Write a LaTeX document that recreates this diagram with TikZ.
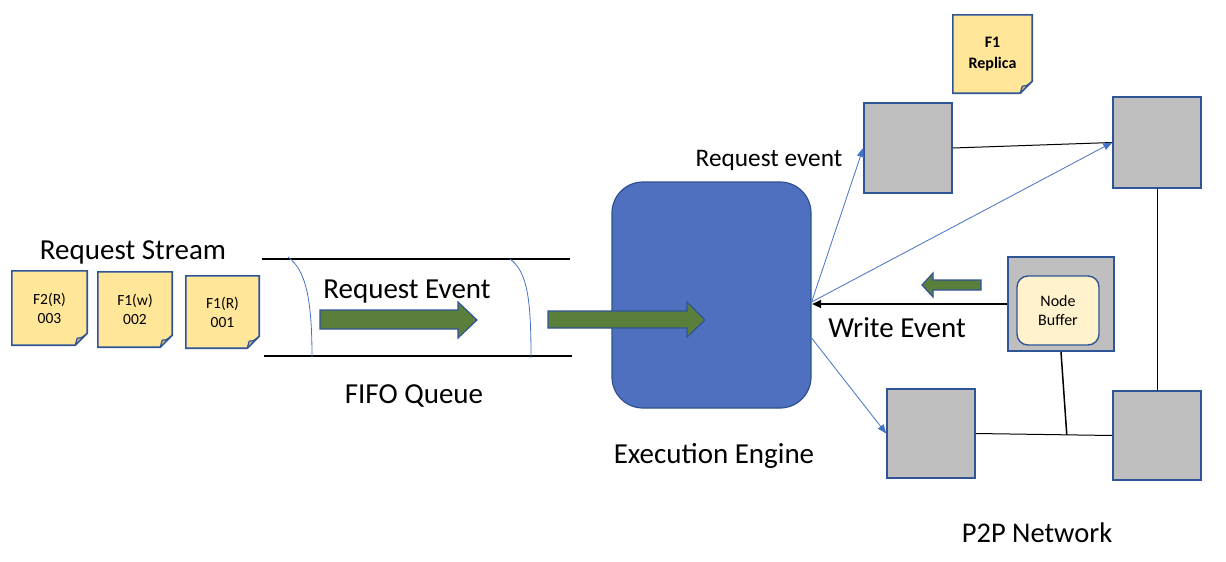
\documentclass[tikz,border=0pt]{standalone}
\usepackage{fontspec}
\setmainfont{Carlito}
\usetikzlibrary{calc,arrows.meta}
\definecolor{noteY}{HTML}{FFE699}
\definecolor{noteB}{HTML}{2F5597}
\definecolor{foldC}{HTML}{C8B47E}
\definecolor{grayN}{HTML}{BFBFBF}
\definecolor{engF}{HTML}{4E70BE}
\definecolor{engB}{HTML}{2F528F}
\definecolor{greenA}{HTML}{5A7F3A}
\definecolor{bufF}{HTML}{FFF2CC}
\definecolor{blueL}{HTML}{4472C4}
\pgfdeclarelayer{bg}
\pgfsetlayers{bg,main}
\newcommand\mynote[1]{%
  \begin{pgfonlayer}{bg}
  \filldraw[fill=noteY,draw=noteB,line width=1.6pt,line join=miter]
    (#1.north west) -- (#1.north east) -- ($(#1.south east)+(0,-12)$)
    -- ($(#1.south east)+(-12,0)$) -- (#1.south west) -- cycle;
  \filldraw[fill=foldC,draw=noteB,line width=1.2pt,line join=round]
    ($(#1.south east)+(0,-12)$) .. controls ($(#1.south east)+(-6,-7)$) .. ($(#1.south east)+(-10,-7)$)
    .. controls ($(#1.south east)+(-11,-3)$) .. ($(#1.south east)+(-12,0)$) -- cycle;
  \end{pgfonlayer}}
\tikzset{
  notebox/.style={minimum width=#1, inner sep=0pt, align=center, font=\fontsize{15.5}{19}\selectfont},
  graynode/.style={draw=noteB, fill=grayN, line width=1.6pt, inner sep=0pt},
  label24/.style={font=\fontsize{29}{33}\selectfont, inner sep=0pt, anchor=base},
  bluearrow/.style={draw=blueL, line width=0.8pt, -{Triangle[length=9pt,width=7pt]}},
  plainline/.style={draw=black, line width=1pt},
  greenarrow/.style={fill=greenA, draw=noteB, line width=1.2pt, line join=miter},
  queueline/.style={draw=black, line width=2pt},
  queuecurve/.style={draw=blueL, line width=0.8pt},
}
\begin{document}
\begin{tikzpicture}[x=1pt,y=-1pt]
\useasboundingbox (0,0) rectangle (1226,562);

% request stream
\node[label24] (rs) at (133,259) {Request Stream};
\node[notebox=75pt, minimum height=74pt] (n3) at (49.5,308) {F2(R)\\003};
\node[notebox=74pt, minimum height=75pt] (n2) at (135,309.5) {F1(w)\\002};
\node[notebox=73pt, minimum height=72pt] (n1) at (222.5,312) {F1(R)\\001};
\mynote{n3}\mynote{n2}\mynote{n1}

% FIFO queue
\coordinate (qt1) at (262,259); \coordinate (qt2) at (570,259);
\coordinate (qb1) at (264,356); \coordinate (qb2) at (572,356);
\draw[queueline] (qt1) -- (qt2);
\draw[queueline] (qb1) -- (qb2);
\coordinate (c1a) at (288,257); \coordinate (c1b) at (312,357);
\coordinate (c2a) at (510,259); \coordinate (c2b) at (531,358);
\draw[queuecurve] (c1a) .. controls (306,270) and (312,300) .. (c1b);
\draw[queuecurve] (c2a) .. controls (528,272) and (531,302) .. (c2b);
\node[label24] (re) at (407,298) {Request Event};
\node[label24] (fifo) at (414,403) {FIFO Queue};
\filldraw[greenarrow] (320,310) -- (458,310) -- (458,302) -- (477,320) -- (458,338) -- (458,329) -- (320,329) -- cycle;

% engine
\node[draw=engB, fill=engF, line width=1.2pt, rounded corners=31pt, minimum width=199pt, minimum height=226pt, inner sep=0pt] (eng) at (711.5,295) {};
\filldraw[greenarrow] (548,311) -- (687,311) -- (687,302) -- (705,320) -- (687,337) -- (687,328) -- (548,328) -- cycle;
\node[label24] (ee) at (714,463) {Execution Engine};

% P2P network
\node[graynode, minimum width=88pt, minimum height=90pt] (g1) at (908,148) {};
\node[graynode, minimum width=88pt, minimum height=91pt] (g2) at (1157,142.5) {};
\node[graynode, minimum width=106pt, minimum height=94pt] (g3) at (1061,304) {};
\node[draw=noteB, fill=bufF, line width=1.4pt, rounded corners=11pt, minimum width=82pt, minimum height=69pt, inner sep=0pt, align=center, font=\fontsize{16}{20}\selectfont] (buf) at (1058,310.5) {Node\\Buffer};
\node[graynode, minimum width=88pt, minimum height=89pt] (g4) at (931,433.5) {};
\node[graynode, minimum width=88pt, minimum height=89pt] (g5) at (1157,435.5) {};
\node[notebox=79pt, minimum height=78pt, font=\fontsize{16}{21}\selectfont\bfseries] (rep) at (992.5,54) {F1\\Replica};
\mynote{rep}

\draw[plainline] (g1.east) -- (g2.west);
\draw[plainline] (g2.south) -- (g5.north);
\draw[plainline] (g4.east) -- (g5.west);
\coordinate (mid) at ($(g4.east)!0.667!(g5.west)$);
\draw[plainline, line width=1.5pt] (g3.south) -- (mid);

\coordinate (e1) at ($(eng.east)+(0,7)$);
\coordinate (e2) at ($(eng.east)+(0,43)$);
\draw[bluearrow] (e1) -- (g1.west);
\draw[bluearrow] (e1) -- (g2.west);
\draw[bluearrow] (e2) -- (g4.west);
\draw[draw=black, line width=1.5pt, -{Triangle[length=9pt,width=8pt]}] (g3.west) -- ($(eng.east)+(0.5,9)$);
\filldraw[greenarrow] (981,280) -- (933,280) -- (933,273) -- (922,285) -- (933,297) -- (933,290) -- (981,290) -- cycle;

\node[label24] (we) at (897,337) {Write Event};
\node[font=\fontsize{25.3}{29}\selectfont, inner sep=0pt, anchor=base] (rev) at (769,166) {Request event};
\node[font=\fontsize{28.5}{33}\selectfont, inner sep=0pt, anchor=base] (p2p) at (1037,542) {P2P Network};
\end{tikzpicture}
\end{document}
